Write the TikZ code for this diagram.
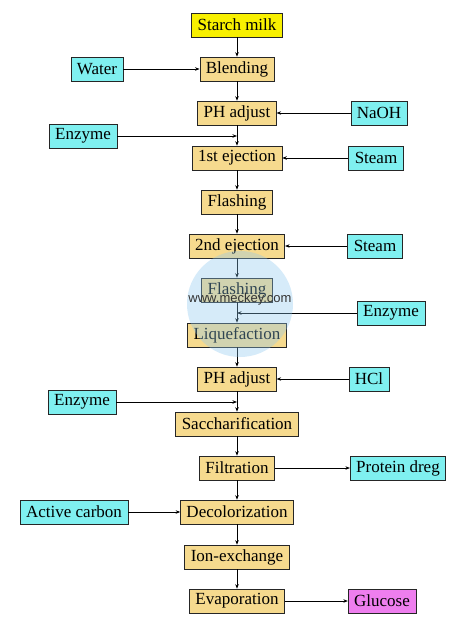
\documentclass[tikz,border=0pt]{standalone}
\usepackage{fontspec}
\setmainfont{Liberation Serif}
\newfontfamily\markfont{Liberation Sans}
\usetikzlibrary{arrows.meta}

\definecolor{stagefill}{HTML}{F6DA8E}
\definecolor{inputfill}{HTML}{7FF0F0}
\definecolor{startfill}{HTML}{F8F000}
\definecolor{productfill}{HTML}{EE7EEE}
\definecolor{markblue}{HTML}{8CC8F0}

\begin{document}
\begin{tikzpicture}[x=1pt, y=-1pt,
        box/.style={draw=black!85, line width=0.6pt, inner xsep=6pt, inner ysep=0pt,
            minimum height=24pt, font=\fontsize{17}{20}\selectfont},
        stage/.style={box, fill=stagefill},
        input/.style={box, fill=inputfill},
        flow/.style={-{Stealth[length=4.5pt,width=3.5pt]}, line width=0.7pt}]
        \useasboundingbox [fill=white] (0,0) rectangle (472,631);

        % main process column
        \node [stage, fill=startfill] (starch) at (237,25)  {Starch milk};
        \node [stage] (blend)  at (237,69)  {Blending};
        \node [stage] (ph1)    at (237,113) {PH adjust};
        \node [stage] (eject1) at (237,158) {1st ejection};
        \node [stage] (flash1) at (237,202) {Flashing};
        \node [stage] (eject2) at (237,246) {2nd ejection};
        \node [stage] (flash2) at (237,290) {Flashing};
        \node [stage] (liquef) at (237,335) {Liquefaction};
        \node [stage] (ph2)    at (237,379) {PH adjust};
        \node [stage] (sacch)  at (237,424) {Saccharification};
        \node [stage] (filtr)  at (237,468) {Filtration};
        \node [stage] (decol)  at (237,512) {Decolorization};
        \node [stage] (ionex)  at (237,557) {Ion-exchange};
        \node [stage] (evap)   at (237,601) {Evaporation};

        % inputs and outputs
        \node [input] (water)  at (97,69)   {Water};
        \node [input] (naoh)   at (379,113) {NaOH};
        \node [input] (enz1)   at (83,136)  {Enzyme};
        \node [input] (steam1) at (376,158) {Steam};
        \node [input] (steam2) at (375,246) {Steam};
        \node [input] (enz2)   at (391,313) {Enzyme};
        \node [input] (hcl)    at (369,379) {HCl};
        \node [input] (enz3)   at (82,402)  {Enzyme};
        \node [input] (dreg)   at (398,468) {Protein dreg};
        \node [input] (carbon) at (74,512)  {Active carbon};
        \node [box, fill=productfill] (glucose) at (382,601) {Glucose};

        \foreach \a/\b in {starch/blend, blend/ph1, ph1/eject1, eject1/flash1, flash1/eject2,
                eject2/flash2, flash2/liquef, liquef/ph2, ph2/sacch, sacch/filtr,
                filtr/decol, decol/ionex, ionex/evap}
            \draw [flow] (\a) -- (\b);

        \draw [flow] (water) -- (blend);
        \draw [flow] (naoh) -- (ph1);
        \draw [flow] (enz1) -- (enz1 -| ph1);
        \draw [flow] (steam1) -- (eject1);
        \draw [flow] (steam2) -- (eject2);
        \draw [flow] (enz2) -- (enz2 -| liquef);
        \draw [flow] (hcl) -- (ph2);
        \draw [flow] (enz3) -- (enz3 -| sacch);
        \draw [flow] (filtr) -- (dreg);
        \draw [flow] (carbon) -- (decol);
        \draw [flow] (evap) -- (glucose);

        % watermark
        \fill [markblue, opacity=0.35] (240,304) circle (53);
        \node [font=\markfont\fontsize{13}{14}\selectfont, text=black!80] (mark) at (240,299) {www.meckey.com};
\end{tikzpicture}
\end{document}
